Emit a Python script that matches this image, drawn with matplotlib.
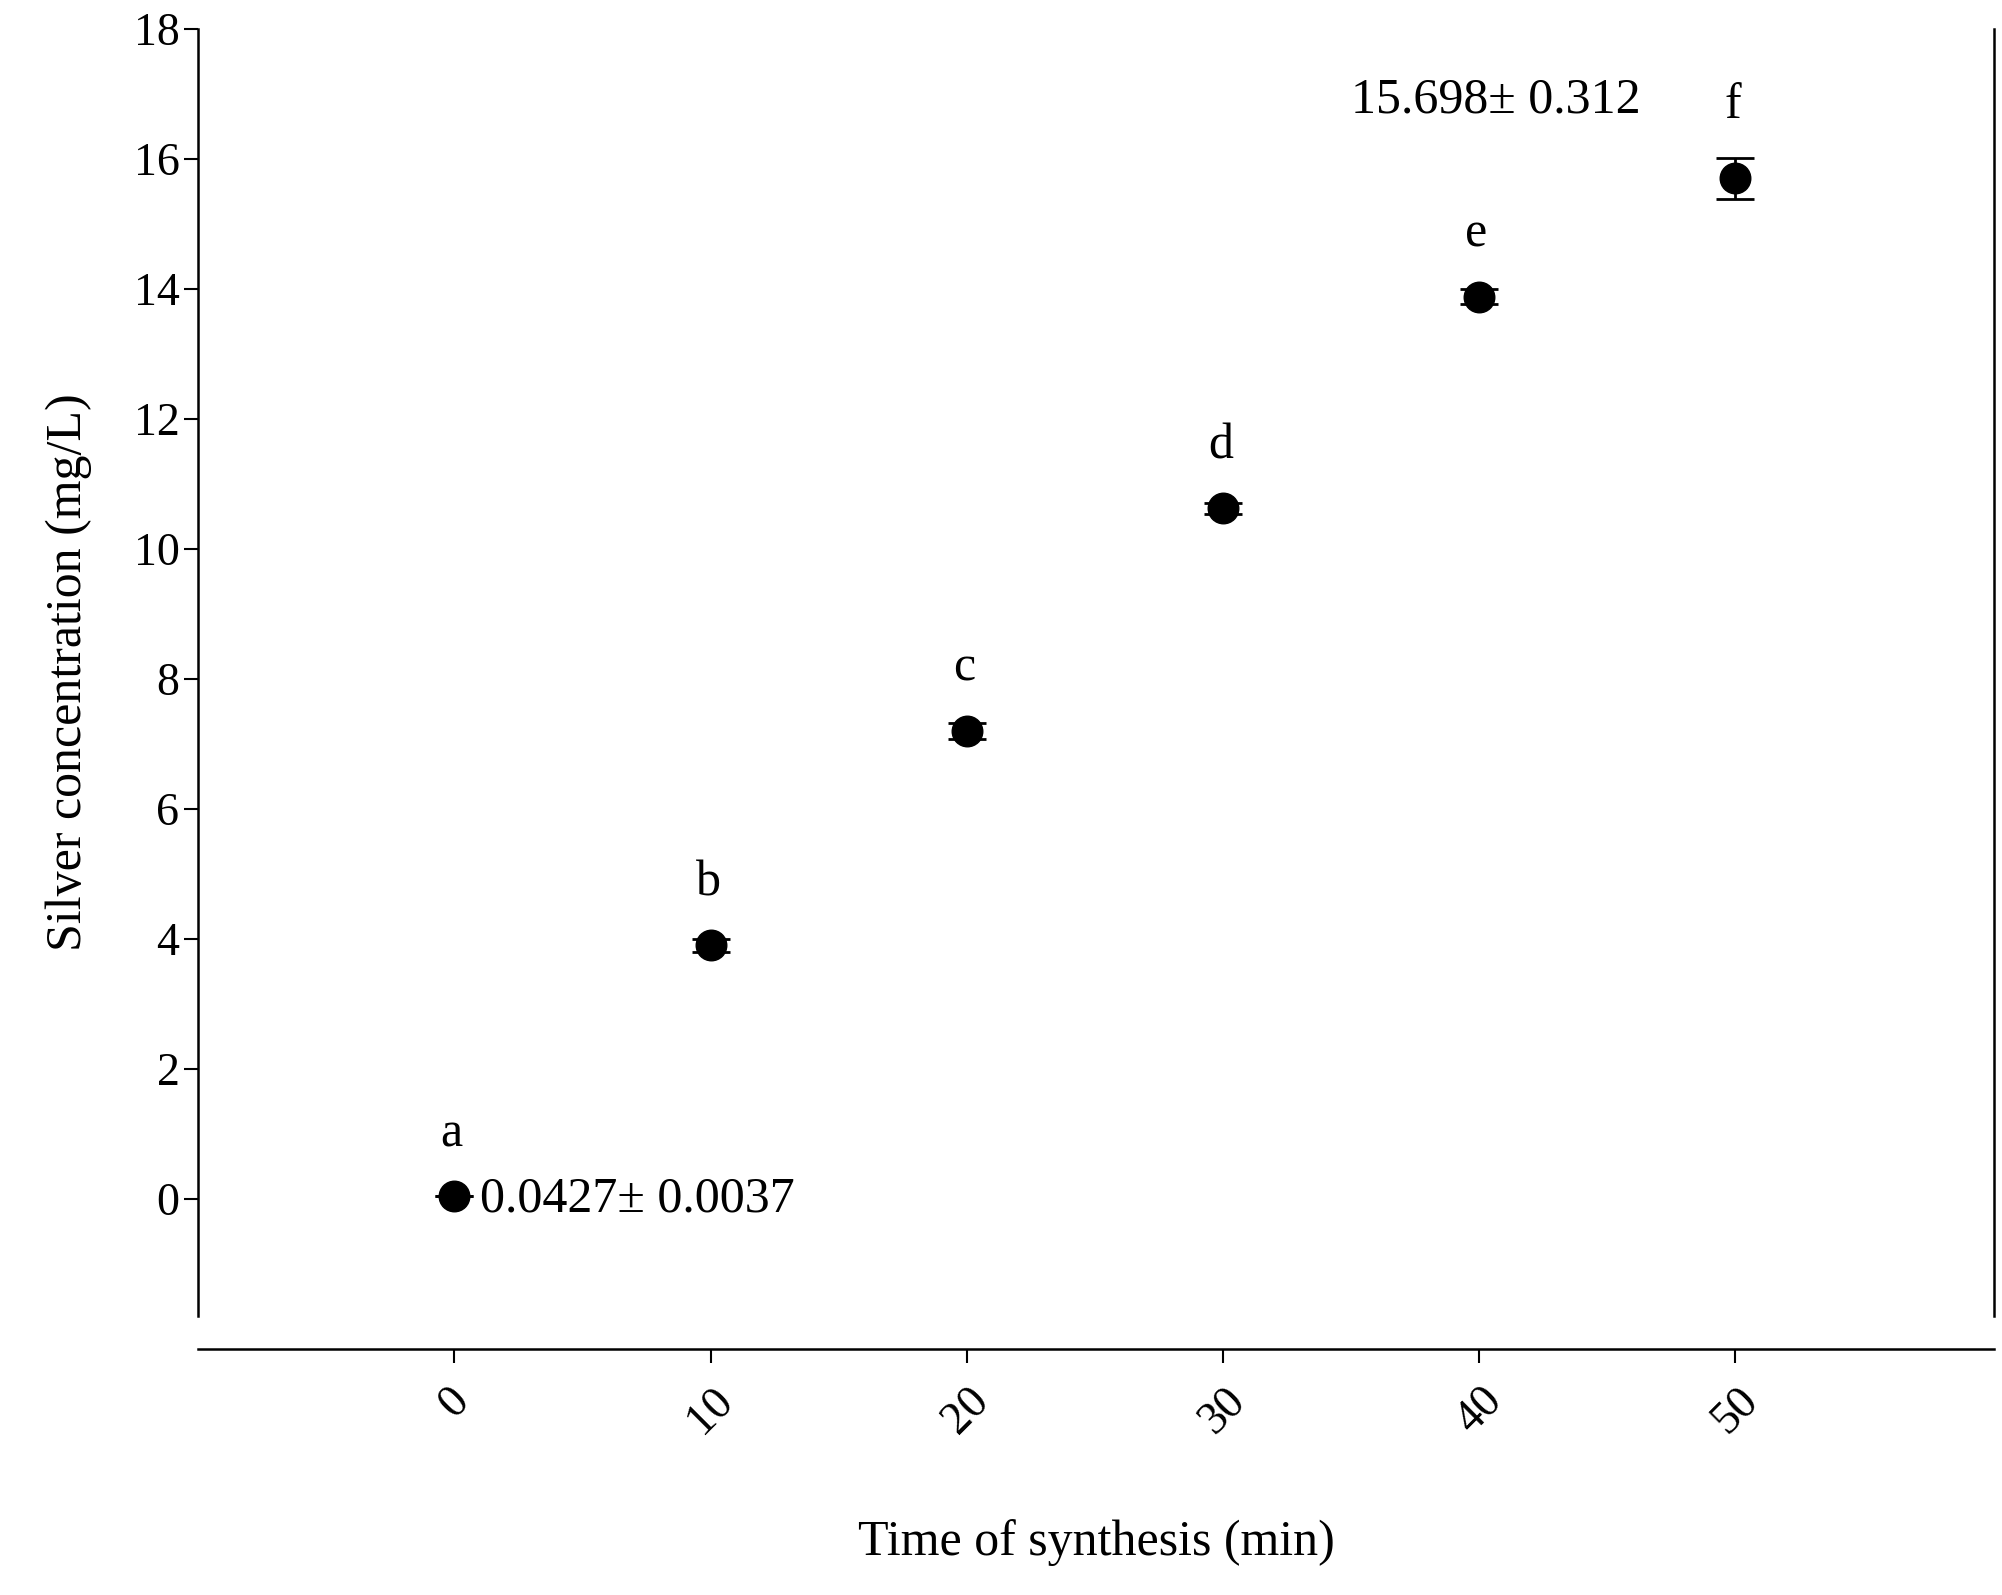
import matplotlib
matplotlib.use("Agg")
import matplotlib.pyplot as plt

# datos
times = [0, 10, 20, 30, 40, 50]
conc = [0.0427, 3.90, 7.20, 10.62, 13.88, 15.698]
err = [0.0037, 0.10, 0.12, 0.08, 0.12, 0.312]
letters = ["a", "b", "c", "d", "e", "f"]

plt.rcParams["font.family"] = ["Liberation Serif", "DejaVu Serif"]

fig = plt.figure(figsize=(20.02, 15.95), dpi=100)
ax = fig.add_axes([0.099, 0.175, 0.897, 0.807])

ax.errorbar(times, conc, yerr=err, fmt="o", color="black", ms=22,
            capsize=14, elinewidth=2, capthick=2)

for t, c, e, l in zip(times, conc, err, letters):
    ax.text(t - 0.1, c + max(e, 0.15) + 0.45, l, ha="center", va="bottom", fontsize=36)

ax.text(1.0, 0.0, "0.0427\u00b1 0.0037", ha="left", va="center", fontsize=36)
ax.text(35.0, 16.9, "15.698\u00b1 0.312", ha="left", va="center", fontsize=36)

ax.set_xlim(-10, 60.1)
ax.set_ylim(-1.8, 18)
ax.set_xticks(times)
ax.set_yticks(range(0, 19, 2))
ax.tick_params(axis="x", labelrotation=45, labelsize=33, length=10, width=1.5, pad=12)
ax.tick_params(axis="y", labelsize=33, length=10, width=1.5)
ax.spines["top"].set_visible(False)
ax.spines["bottom"].set_position(("outward", 24))
for s in ("left", "right", "bottom"):
    ax.spines[s].set_linewidth(1.8)

ax.set_xlabel("Time of synthesis (min)", fontsize=36, labelpad=55)
ax.set_ylabel("Silver concentration (mg/L)", fontsize=36, labelpad=30)

fig.savefig("out.png", dpi=100)
